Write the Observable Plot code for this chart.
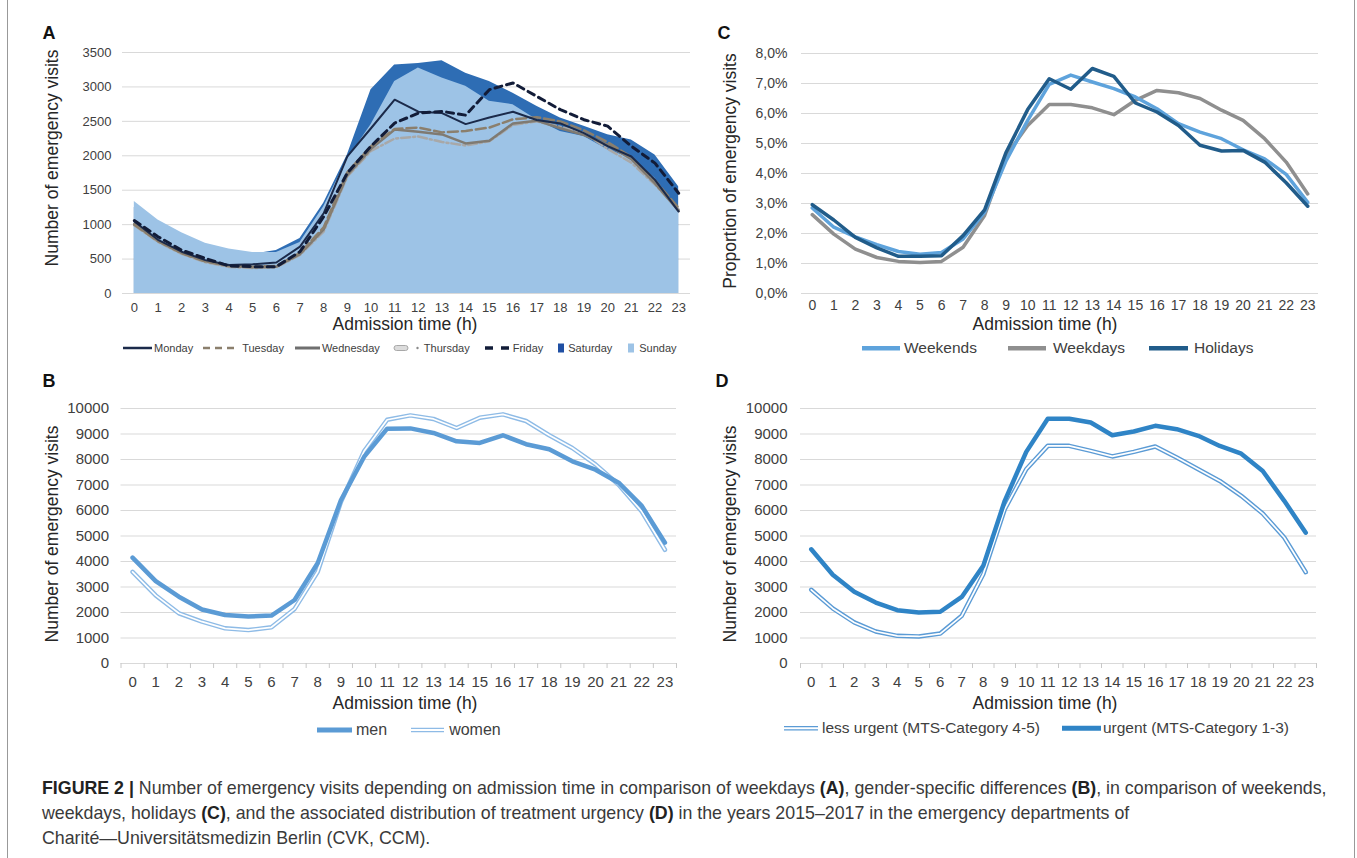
<!DOCTYPE html>
<html>
<head>
<meta charset="utf-8">
<script src="https://cdn.jsdelivr.net/npm/d3@7"></script>
<script src="https://cdn.jsdelivr.net/npm/@observablehq/plot@0.6"></script>
<style>
  body { margin: 0; background: #fff; width: 1357px; height: 858px; position: relative; overflow: hidden;
         font-family: "Liberation Sans", Arial, Helvetica, sans-serif; }
  .panel { position: absolute; }
  .panel svg { overflow: visible; }
  .title { position: absolute; white-space: nowrap; transform: translate(-50%, -50%); color: #262626;
           font-size: 17.5px; line-height: 1; }
  .ytitle { transform: translate(-50%, -50%) rotate(-90deg); }
  .letter { position: absolute; font-weight: bold; font-size: 18px; line-height: 1; transform: translate(-50%, -50%); color: #111; }
  .legend { position: absolute; display: flex; align-items: center; white-space: nowrap; color: #404040;
            transform: translateY(-50%); line-height: 1; }
  .item { display: inline-flex; align-items: center; }
  .item svg { display: block; }
  .caption { position: absolute; left: 42px; top: 776px; font-size: 17.8px; line-height: 25px; color: #3a3a3a;
             white-space: nowrap; }
  .caption b { color: #222; }
  .border { position: absolute; top: 0; bottom: 0; width: 0; border-left: 1px solid #999; }
</style>
</head>
<body>
<div class="border" style="left:7px"></div>
<div class="border" style="left:1354px"></div>
<script>
// ---------------- data ----------------
const hours = [0, 1, 2, 3, 4, 5, 6, 7, 8, 9, 10, 11, 12, 13, 14, 15, 16, 17, 18, 19, 20, 21, 22, 23];

// Panel A: weekdays (number of visits)
const monday    = [1045, 780, 607, 485, 413, 425, 450, 680, 1165, 1990, 2400, 2815, 2640, 2620, 2460, 2555, 2640, 2520, 2470, 2330, 2140, 1990, 1650, 1190];
const tuesday   = [1000, 760, 585, 465, 405, 390, 400, 590, 960, 1760, 2140, 2390, 2410, 2340, 2360, 2410, 2530, 2560, 2500, 2370, 2200, 1980, 1640, 1240];
const wednesday = [1010, 765, 590, 470, 400, 380, 390, 570, 930, 1720, 2100, 2380, 2350, 2310, 2180, 2220, 2470, 2510, 2400, 2300, 2160, 1950, 1600, 1200];
const thursday  = [990, 750, 575, 455, 385, 370, 380, 560, 900, 1700, 2070, 2250, 2280, 2200, 2150, 2210, 2450, 2500, 2420, 2330, 2100, 1900, 1580, 1220];
const friday    = [1060, 825, 630, 510, 400, 390, 390, 607, 1116, 1750, 2140, 2475, 2620, 2645, 2590, 2960, 3058, 2864, 2670, 2524, 2430, 2140, 1893, 1456];
const saturday  = [1250, 1000, 830, 690, 610, 570, 625, 800, 1310, 2010, 2960, 3320, 3340, 3380, 3200, 3080, 2910, 2720, 2550, 2430, 2305, 2230, 2010, 1550];
const sunday    = [1335, 1068, 883, 728, 645, 597, 595, 740, 1260, 1950, 2450, 3080, 3276, 3131, 3009, 2791, 2742, 2524, 2354, 2281, 2087, 1966, 1675, 1213];
const yTicksA = [0, 500, 1000, 1500, 2000, 2500, 3000, 3500];

// Panel B: gender
const men   = [4150, 3230, 2620, 2120, 1900, 1840, 1880, 2490, 3940, 6400, 8100, 9210, 9220, 9040, 8715, 8650, 8950, 8600, 8400, 7930, 7600, 7090, 6180, 4740];
const women = [3590, 2670, 1970, 1640, 1380, 1310, 1420, 2140, 3600, 6330, 8320, 9560, 9730, 9590, 9235, 9640, 9770, 9510, 8950, 8450, 7810, 7010, 5960, 4460];
const yTicksBD = [0, 1000, 2000, 3000, 4000, 5000, 6000, 7000, 8000, 9000, 10000];

// Panel C: proportion (%)
const weekends = [2.85, 2.21, 1.89, 1.63, 1.40, 1.31, 1.37, 1.82, 2.71, 4.43, 5.77, 6.97, 7.28, 7.05, 6.83, 6.55, 6.16, 5.66, 5.38, 5.16, 4.79, 4.49, 3.97, 3.04];
const weekdays = [2.63, 1.98, 1.48, 1.20, 1.07, 1.03, 1.07, 1.54, 2.60, 4.60, 5.60, 6.30, 6.30, 6.19, 5.96, 6.44, 6.77, 6.69, 6.50, 6.11, 5.77, 5.16, 4.38, 3.32];
const holidays = [2.96, 2.45, 1.87, 1.52, 1.24, 1.24, 1.26, 1.93, 2.79, 4.71, 6.13, 7.16, 6.81, 7.50, 7.24, 6.35, 6.05, 5.60, 4.94, 4.75, 4.77, 4.38, 3.69, 2.91];
const yTicksC = [0, 1, 2, 3, 4, 5, 6, 7, 8];

// Panel D: urgency
const lessUrgent = [2890, 2160, 1610, 1255, 1085, 1060, 1175, 1870, 3500, 6050, 7620, 8535, 8535, 8340, 8120, 8300, 8510, 8080, 7620, 7160, 6575, 5880, 4940, 3580];
const urgent     = [4480, 3480, 2810, 2390, 2090, 2000, 2030, 2610, 3830, 6380, 8300, 9600, 9600, 9450, 8950, 9100, 9320, 9190, 8930, 8530, 8230, 7550, 6380, 5130];

// text
const xTitle = "Admission time (h)";
const yTitleCount = "Number of emergency visits";
const yTitleProp = "Proportion of emergency visits";

// ---------------- helpers ----------------
const rows = (values) => hours.map((h, i) => ({h, v: values[i]}));
const boundaries = hours.map(h => h - 0.5).concat([hours[hours.length - 1] + 0.5]);
const FONT = '"Liberation Sans", Arial, Helvetica, sans-serif';
const plain = d => String(d);

function place(el, left, top) {
  const d = document.createElement("div");
  d.className = "panel";
  d.style.left = left + "px";
  d.style.top = top + "px";
  d.appendChild(el);
  document.body.appendChild(d);
}
function addText(cls, text, x, y, extra) {
  const d = document.createElement("div");
  d.className = cls;
  d.textContent = text;
  d.style.left = x + "px";
  d.style.top = y + "px";
  if (extra) Object.assign(d.style, extra);
  document.body.appendChild(d);
}
function addLegend(x, y, fontSize, items) {
  const d = document.createElement("div");
  d.className = "legend";
  d.style.left = x + "px";
  d.style.top = y + "px";
  d.style.fontSize = fontSize + "px";
  for (const it of items) {
    const s = document.createElement("span");
    s.className = "item";
    s.style.marginRight = (it.after || 0) + "px";
    s.innerHTML = `<svg width="${it.w}" height="12" viewBox="0 0 ${it.w} 12">${it.svg}</svg>` +
      `<span style="margin-left:${it.pad}px">${it.label}</span>`;
    d.appendChild(s);
  }
  document.body.appendChild(d);
}
const dbl = (x1, x2, outer, w) =>
  `<line x1="${x1}" x2="${x2}" y1="6" y2="6" stroke="${outer}" stroke-width="${w}"/>` +
  `<line x1="${x1}" x2="${x2}" y1="6" y2="6" stroke="#fff" stroke-width="${w * 0.4}"/>`;

// ---------------- Panel A ----------------
const chartA = Plot.plot({
  width: 700, height: 345,
  marginLeft: 122, marginRight: 10, marginTop: 52, marginBottom: 52,
  style: {fontFamily: FONT, fontSize: "13px", color: "#404040", background: "transparent"},
  x: {domain: [-0.5, 23.5]},
  y: {domain: [0, 3500]},
  marks: [
    Plot.ruleY(yTicksA, {stroke: "#d9d9d9", strokeWidth: 1}),
    Plot.areaY(rows(saturday), {x: "h", y: "v", fill: "#2e6db4"}),
    Plot.areaY(rows(sunday), {x: "h", y: "v", fill: "#9dc3e6"}),
    Plot.line(rows(thursday), {x: "h", y: "v", stroke: "#a8a8a8", strokeWidth: 2.5, strokeDasharray: "9,3,2,3"}),
    Plot.line(rows(wednesday), {x: "h", y: "v", stroke: "#7f7a72", strokeWidth: 2.5}),
    Plot.line(rows(tuesday), {x: "h", y: "v", stroke: "#8b7f6d", strokeWidth: 2.5, strokeDasharray: "10,4"}),
    Plot.line(rows(monday), {x: "h", y: "v", stroke: "#1b2a4a", strokeWidth: 2}),
    Plot.line(rows(friday), {x: "h", y: "v", stroke: "#121c38", strokeWidth: 3, strokeDasharray: "7,5"}),
    Plot.axisY({ticks: yTicksA, tickSize: 0, tickPadding: 11, label: null, tickFormat: plain}),
    Plot.axisX({ticks: hours, tickSize: 0, tickPadding: 9, label: null, tickFormat: plain})
  ]
});
place(chartA, 0, 0);

// ---------------- Panel B ----------------
const chartB = Plot.plot({
  width: 690, height: 340,
  marginLeft: 120.5, marginRight: 14, marginTop: 48, marginBottom: 37,
  style: {fontFamily: FONT, fontSize: "15px", color: "#404040", background: "transparent"},
  x: {domain: [-0.5, 23.5]},
  y: {domain: [0, 10000]},
  marks: [
    Plot.ruleY(yTicksBD, {stroke: "#d9d9d9", strokeWidth: 1}),
    Plot.line(rows(women), {x: "h", y: "v", stroke: "#8ebbe6", strokeWidth: 4.5}),
    Plot.line(rows(women), {x: "h", y: "v", stroke: "#ffffff", strokeWidth: 1.7}),
    Plot.line(rows(men), {x: "h", y: "v", stroke: "#5b9bd5", strokeWidth: 4.5}),
    Plot.axisY({ticks: yTicksBD, tickSize: 0, tickPadding: 12, label: null, tickFormat: plain}),
    Plot.axisX({ticks: boundaries, tickSize: 5, tickFormat: () => "", stroke: "#c8c8c8", label: null}),
    Plot.axisX({ticks: hours, tickSize: 0, tickPadding: 13, label: null, tickFormat: plain})
  ]
});
place(chartB, 0, 360);

// ---------------- Panel C ----------------
const chartC = Plot.plot({
  width: 657, height: 345,
  marginLeft: 101, marginRight: 39, marginTop: 53, marginBottom: 52,
  style: {fontFamily: FONT, fontSize: "14px", color: "#404040", background: "transparent"},
  x: {domain: [-0.5, 23.5]},
  y: {domain: [0, 8]},
  marks: [
    Plot.ruleY(yTicksC, {stroke: "#d9d9d9", strokeWidth: 1}),
    Plot.line(rows(weekdays), {x: "h", y: "v", stroke: "#8f8f8f", strokeWidth: 3.5}),
    Plot.line(rows(weekends), {x: "h", y: "v", stroke: "#5ea3dc", strokeWidth: 3.5}),
    Plot.line(rows(holidays), {x: "h", y: "v", stroke: "#215c8a", strokeWidth: 3.5}),
    Plot.axisY({ticks: yTicksC, tickSize: 0, tickPadding: 14, label: null,
                tickFormat: d => d.toFixed(1).replace(".", ",") + "%"}),
    Plot.axisX({ticks: hours, tickSize: 0, tickPadding: 7, label: null, tickFormat: plain})
  ]
});
place(chartC, 700, 0);

// ---------------- Panel D ----------------
const chartD = Plot.plot({
  width: 657, height: 340,
  marginLeft: 100, marginRight: 41, marginTop: 48, marginBottom: 37,
  style: {fontFamily: FONT, fontSize: "15px", color: "#404040", background: "transparent"},
  x: {domain: [-0.5, 23.5]},
  y: {domain: [0, 10000]},
  marks: [
    Plot.ruleY(yTicksBD, {stroke: "#d9d9d9", strokeWidth: 1}),
    Plot.line(rows(lessUrgent), {x: "h", y: "v", stroke: "#5b9bd5", strokeWidth: 4.5}),
    Plot.line(rows(lessUrgent), {x: "h", y: "v", stroke: "#ffffff", strokeWidth: 1.7}),
    Plot.line(rows(urgent), {x: "h", y: "v", stroke: "#2f84c6", strokeWidth: 4.5}),
    Plot.axisY({ticks: yTicksBD, tickSize: 0, tickPadding: 13, label: null, tickFormat: plain}),
    Plot.axisX({ticks: boundaries, tickSize: 5, tickFormat: () => "", stroke: "#c8c8c8", label: null}),
    Plot.axisX({ticks: hours, tickSize: 0, tickPadding: 13, label: null, tickFormat: plain})
  ]
});
place(chartD, 700, 360);

// ---------------- titles ----------------
addText("letter", "A", 49, 33);
addText("letter", "B", 49, 381);
addText("letter", "C", 724, 33);
addText("letter", "D", 722, 381);

addText("title ytitle", yTitleCount, 53, 158);
addText("title", xTitle, 405, 325);
addText("title ytitle", yTitleCount, 53, 534);
addText("title", xTitle, 405, 704);
addText("title ytitle", yTitleProp, 731, 171);
addText("title", xTitle, 1045, 325);
addText("title ytitle", yTitleCount, 731, 534);
addText("title", xTitle, 1045, 704);

// ---------------- legends ----------------
addLegend(123, 348, 11, [
  {label: "Monday", w: 29, pad: 2, after: 10, svg: `<line x1="0" x2="29" y1="6" y2="6" stroke="#1b2a4a" stroke-width="2.5"/>`},
  {label: "Tuesday", w: 31, pad: 8, after: 11, svg: `<line x1="0" x2="31" y1="6" y2="6" stroke="#8b7f6d" stroke-width="2.5" stroke-dasharray="7,5"/>`},
  {label: "Wednesday", w: 25, pad: 2, after: 13, svg: `<line x1="0" x2="25" y1="6" y2="6" stroke="#6f6f6f" stroke-width="3"/>`},
  {label: "Thursday", w: 26, pad: 5, after: 15, svg: `<rect x="1" y="3.5" width="14" height="5" rx="2.5" fill="#dcdcdc" stroke="#a8a8a8" stroke-width="1"/><circle cx="24.5" cy="6" r="1.2" fill="#8a8a8a"/>`},
  {label: "Friday", w: 25, pad: 3, after: 15, svg: `<line x1="0" x2="25" y1="6" y2="6" stroke="#121c38" stroke-width="3.5" stroke-dasharray="8,8"/>`},
  {label: "Saturday", w: 6, pad: 4, after: 16, svg: `<rect x="0" y="1.5" width="6" height="9" fill="#1f4fa3"/>`},
  {label: "Sunday", w: 6, pad: 5, after: 0, svg: `<rect x="0" y="1.5" width="6" height="9" fill="#9dc3e6"/>`}
]);
addLegend(862, 348, 15.5, [
  {label: "Weekends", w: 38, pad: 4, after: 31, svg: `<line x1="0" x2="38" y1="6" y2="6" stroke="#5ea3dc" stroke-width="4.5"/>`},
  {label: "Weekdays", w: 38, pad: 7, after: 24, svg: `<line x1="0" x2="38" y1="6" y2="6" stroke="#8f8f8f" stroke-width="4.5"/>`},
  {label: "Holidays", w: 39, pad: 6, after: 0, svg: `<line x1="0" x2="39" y1="6" y2="6" stroke="#215c8a" stroke-width="4.5"/>`}
]);
addLegend(317, 730, 16, [
  {label: "men", w: 35, pad: 4, after: 24, svg: `<line x1="0" x2="35" y1="6" y2="6" stroke="#5b9bd5" stroke-width="5"/>`},
  {label: "women", w: 33, pad: 5, after: 0, svg: dbl(0, 33, "#8ebbe6", 4.5)}
]);
addLegend(784, 728, 15.5, [
  {label: "less urgent (MTS-Category 4-5)", w: 34, pad: 4, after: 22, svg: dbl(0, 34, "#5b9bd5", 4.5)},
  {label: "urgent (MTS-Category 1-3)", w: 39, pad: 2, after: 0, svg: `<line x1="0" x2="39" y1="6" y2="6" stroke="#2f84c6" stroke-width="5"/>`}
]);

// ---------------- caption ----------------
const cap = document.createElement("div");
cap.className = "caption";
cap.innerHTML =
  "<b>FIGURE 2 |</b> Number of emergency visits depending on admission time in comparison of weekdays <b>(A)</b>, gender-specific differences <b>(B)</b>, in comparison of weekends,<br>" +
  "weekdays, holidays <b>(C)</b>, and the associated distribution of treatment urgency <b>(D)</b> in the years 2015–2017 in the emergency departments of<br>" +
  "Charité—Universitätsmedizin Berlin (CVK, CCM).";
document.body.appendChild(cap);
</script>
</body>
</html>
